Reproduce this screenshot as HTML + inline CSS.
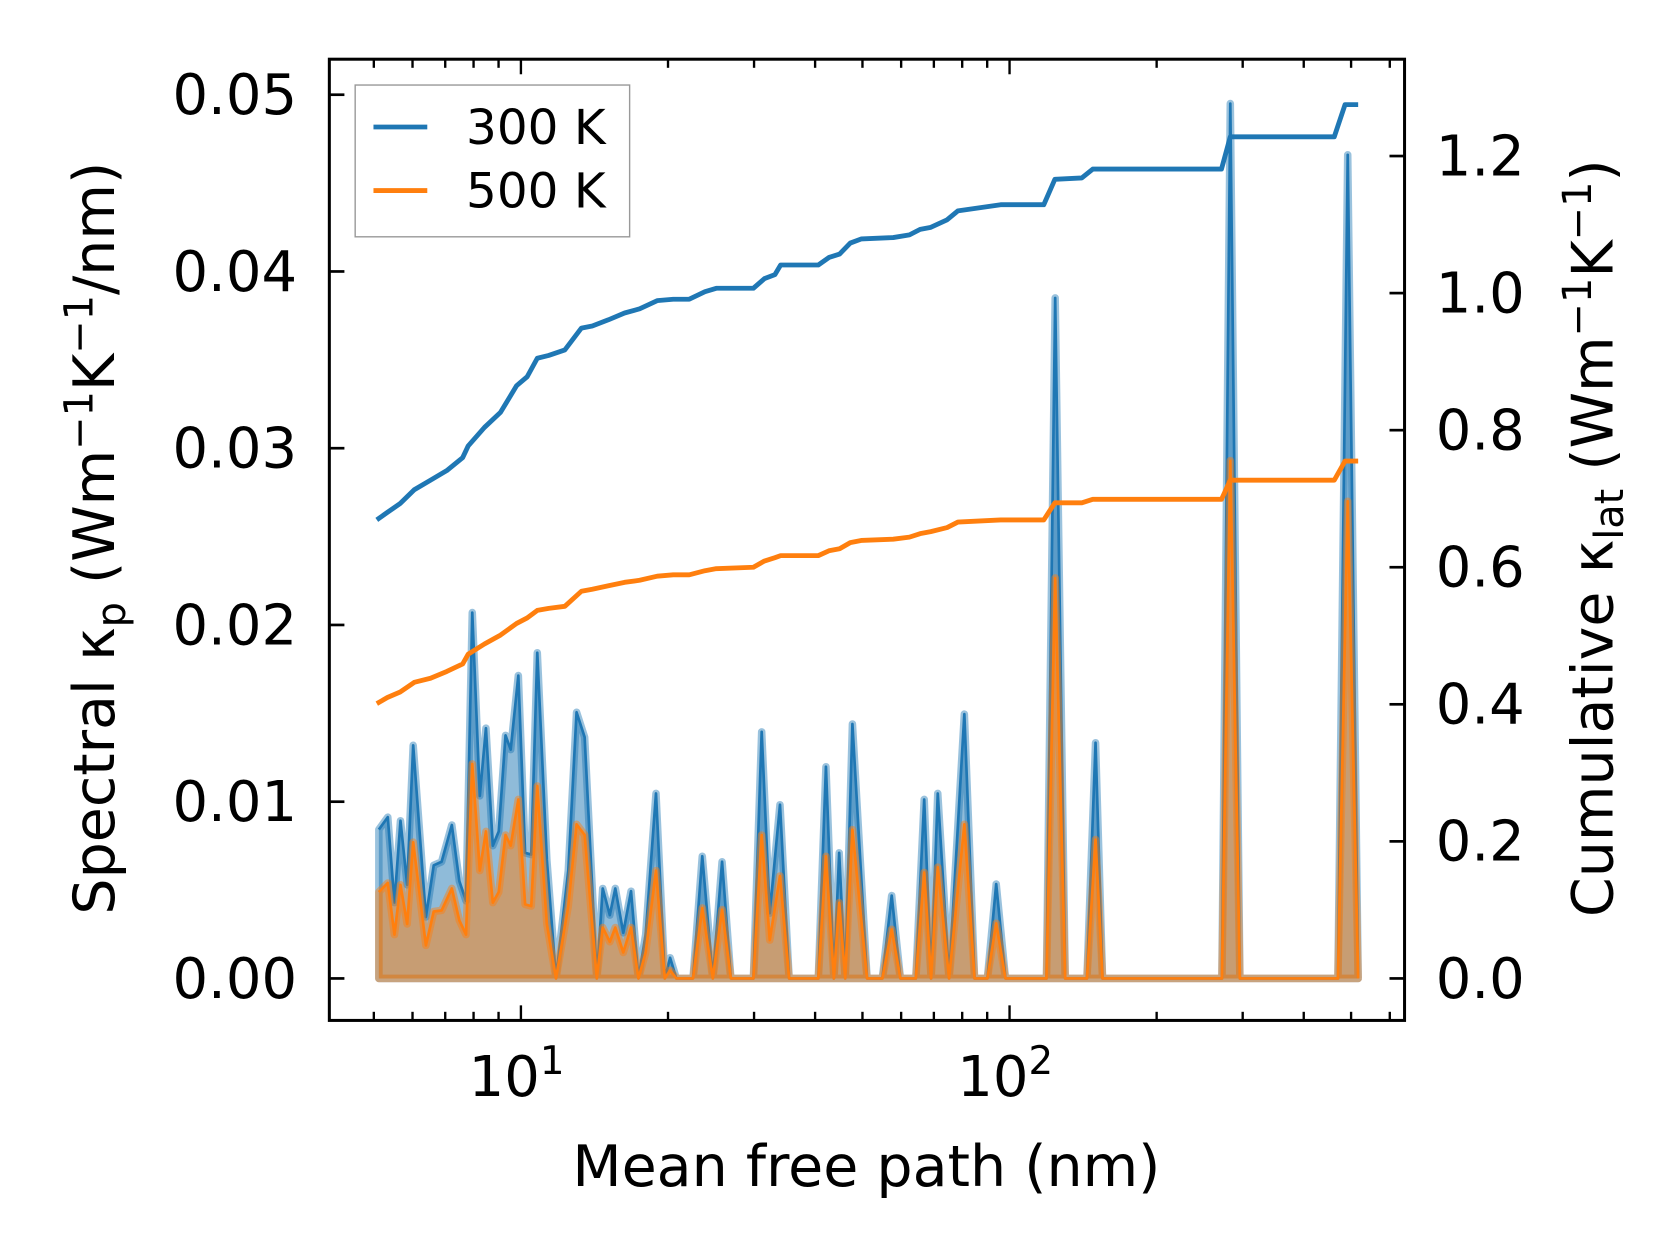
<!DOCTYPE html>
<html><head><meta charset="utf-8"><style>
html,body{margin:0;padding:0;background:#fff;}
svg{display:block;}
text{font-family:"DejaVu Sans","Liberation Sans",sans-serif;fill:#000;}
</style></head><body>
<svg id="chart" width="1679" height="1254" viewBox="0 0 1560 1165" preserveAspectRatio="none" xmlns="http://www.w3.org/2000/svg">
<rect x="0" y="0" width="1560" height="1165" fill="#fff"/>
<g id="marks"></g>
<g id="axes"></g>
<text x="805" y="1102" font-size="53" text-anchor="middle">Mean free path (nm)</text>
<text transform="translate(106,500) rotate(-90)" font-size="53" text-anchor="middle">Spectral κ<tspan font-size="37" dy="10">p</tspan><tspan dy="-10"> (Wm</tspan><tspan font-size="37" dy="-20">−1</tspan><tspan dy="20">K</tspan><tspan font-size="37" dy="-20">−1</tspan><tspan dy="20">/nm)</tspan></text>
<text transform="translate(1498,500) rotate(-90)" font-size="53" text-anchor="middle">Cumulative κ<tspan font-size="37" dy="10">lat</tspan><tspan dy="-10"> (Wm</tspan><tspan font-size="37" dy="-20">−1</tspan><tspan dy="20">K</tspan><tspan font-size="37" dy="-20">−1</tspan><tspan dy="20">)</tspan></text>
<g>
<rect x="330" y="79" width="255" height="141" fill="#fff" fill-opacity="0.8" stroke="#999" stroke-width="1.3"/>
<line x1="347" y1="118" x2="397" y2="118" stroke="#1f77b4" stroke-width="4.5"/>
<text x="433" y="134" font-size="45">300 K</text>
<line x1="347" y1="177" x2="397" y2="177" stroke="#ff7f0e" stroke-width="4.5"/>
<text x="433" y="193" font-size="45">500 K</text>
</g>
</svg>
<script>
// spectral data
const specX = [5.12,5.34,5.51,5.67,5.85,6.02,6.39,6.63,6.88,7.22,7.48,7.72,7.95,8.24,8.48,8.76,9.01,9.30,9.53,9.88,10.2,10.5,10.8,11.3,11.8,12.5,13.0,13.5,14.3,14.7,15.2,15.6,16.2,16.8,17.4,18.0,18.9,19.7,20.2,20.8,22.5,23.5,24.7,25.8,26.9,29.9,31.1,32.3,33.9,35.4,40.6,42.1,43.7,44.8,46.1,47.7,51.1,54.9,57.4,59.8,64.3,66.9,69.1,71.3,75.2,80.8,84.8,90.1,93.9,98.1,119,124,130,144,150,155,272,283,296,470,492,517];
const spec300 = [0.00842,0.00912,0.00429,0.00892,0.0053,0.01319,0.00348,0.0064,0.0066,0.00868,0.0055,0.00439,0.0207,0.01033,0.01416,0.00751,0.00832,0.01375,0.01295,0.01714,0.00711,0.00701,0.01843,0.00671,0,0.0061,0.01506,0.01365,0,0.00509,0.00358,0.00509,0.00258,0.00493,0,0.00248,0.01047,0,0.00117,0,0,0.00691,0,0.0066,0,0,0.01395,0.00369,0.00983,0,0,0.01198,0,0.00711,0,0.0144,0,0,0.00469,0,0,0.01013,0,0.01047,0,0.01496,0,0,0.00534,0,0,0.0385,0,0,0.01334,0,0,0.0495,0,0,0.0466,0];
const spec500 = [0.00489,0.0054,0.00248,0.0053,0.00308,0.00771,0.00187,0.00379,0.00385,0.00509,0.00328,0.00248,0.01214,0.0061,0.00832,0.00429,0.00489,0.00812,0.00751,0.01013,0.00419,0.00409,0.01089,0.00308,0,0.00409,0.00872,0.00812,0,0.00288,0.00207,0.00288,0.00147,0.00288,0,0.00147,0.0061,0,0.00046,0,0,0.00399,0,0.00389,0,0,0.00812,0.00217,0.0058,0,0,0.00691,0,0.00429,0,0.00842,0,0,0.00278,0,0,0.006,0,0.0063,0,0.00872,0,0,0.00312,0,0,0.02266,0,0,0.00786,0,0,0.0293,0,0,0.027,0];
// cumulative data
const cumX = [5.07,5.33,5.66,6.05,6.53,7.05,7.60,7.80,8.42,9.08,9.80,10.3,10.8,11.4,12.3,13.3,14.0,15.1,16.3,17.5,19.0,20.5,22.1,23.8,25.1,29.9,31.5,33.1,34.0,40.6,42.7,44.9,47.2,49.7,57.8,62.4,65.6,69.0,74.5,78.4,95.9,117.5,123.8,140.6,148.0,271.5,283.0,462,486,517];
const cum300 = [0.669,0.680,0.693,0.713,0.727,0.741,0.760,0.777,0.804,0.826,0.865,0.878,0.905,0.909,0.917,0.949,0.952,0.961,0.971,0.977,0.989,0.991,0.991,1.002,1.007,1.007,1.021,1.027,1.041,1.041,1.052,1.057,1.073,1.079,1.081,1.085,1.093,1.096,1.107,1.120,1.129,1.129,1.166,1.168,1.181,1.181,1.228,1.228,1.275,1.275];
const cum500 = [0.401,0.410,0.418,0.432,0.438,0.448,0.459,0.473,0.488,0.501,0.518,0.526,0.537,0.540,0.543,0.565,0.568,0.573,0.578,0.581,0.587,0.589,0.589,0.595,0.598,0.600,0.609,0.614,0.617,0.617,0.624,0.627,0.636,0.639,0.641,0.644,0.649,0.652,0.658,0.666,0.669,0.669,0.694,0.694,0.699,0.699,0.727,0.727,0.755,0.755];
const leftTicks = [0,0.01,0.02,0.03,0.04,0.05];
const leftTickLabels = ["0.00","0.01","0.02","0.03","0.04","0.05"];
const rightTicks = [0,0.2,0.4,0.6,0.8,1.0,1.2];
const rightTickLabels = ["0.0","0.2","0.4","0.6","0.8","1.0","1.2"];
const xMajor = [10,100];
const xMajorLabels = ["1","2"];

const L=306,R=1305,T=55,B=948;
const xs = v => 484 + (Math.log10(v)-1)*454;
const yL = v => 909 - v*16420;
const yR = v => 909 - v*636.7;
const NS="http://www.w3.org/2000/svg";
const marks=document.getElementById('marks');
const axes=document.getElementById('axes');
function mk(tag,attrs,parent){const e=document.createElementNS(NS,tag);for(const k in attrs)e.setAttribute(k,attrs[k]);parent.appendChild(e);return e;}

function spectral(vals,color,name){
  let pts=specX.map((x,i)=>xs(x).toFixed(1)+','+yL(vals[i]).toFixed(1));
  const f=mk('path',{d:'M'+xs(specX[0])+','+yL(0)+' L'+pts.join(' L')+' L'+xs(specX[specX.length-1])+','+yL(0)+' Z',fill:color,'fill-opacity':0.5,stroke:color,'stroke-opacity':0.45,'stroke-width':7,'stroke-linejoin':'round'},marks);
  
  
  const l=mk('path',{d:'M'+pts.join(' L'),fill:'none',stroke:color,'stroke-width':2.5,'stroke-linejoin':'round'},marks);
  
  
}
spectral(spec300,'#1f77b4','spectral-300k');
spectral(spec500,'#ff7f0e','spectral-500k');
function cum(vals,color,name){
  const p=mk('path',{d:'M'+cumX.map((x,i)=>xs(x).toFixed(1)+','+yR(vals[i]).toFixed(1)).join(' L'),fill:'none',stroke:color,'stroke-width':4.5,'stroke-linejoin':'round'},marks);
  
  
}
cum(cum300,'#1f77b4','cumulative-300k');
cum(cum500,'#ff7f0e','cumulative-500k');

const fr=mk('rect',{x:L,y:T,width:R-L,height:B-T,fill:'none',stroke:'#000','stroke-width':2.8},axes);


leftTicks.forEach((v,i)=>{
  const y=yL(v);
  const t=mk('line',{x1:L,y1:y,x2:L+14,y2:y,stroke:'#000','stroke-width':2.5},axes);
  
  
  const tx=mk('text',{x:276,y:y+18,'font-size':52,'text-anchor':'end'},axes);
  tx.textContent=leftTickLabels[i];
  
  
});
rightTicks.forEach((v,i)=>{
  const y=yR(v);
  const t=mk('line',{x1:R-14,y1:y,x2:R,y2:y,stroke:'#000','stroke-width':2.5},axes);
  
  
  const tx=mk('text',{x:1334,y:y+18,'font-size':52},axes);
  tx.textContent=rightTickLabels[i];
  
  
});
for(let d=1;d<=100;d*=10){for(let m=1;m<10;m++){const v=d*m;const x=xs(v);if(x<L||x>R)continue;const len=m===1?14:8;
  const a=mk('line',{x1:x,y1:B,x2:x,y2:B-len,stroke:'#000','stroke-width':2.2},axes);
  
  
  const b=mk('line',{x1:x,y1:T,x2:x,y2:T+len,stroke:'#000','stroke-width':2.2},axes);
  
  
}}
xMajor.forEach((v,i)=>{
  const tx=mk('text',{x:xs(v)-4,y:1018,'font-size':52,'text-anchor':'middle'},axes);
  tx.textContent='10';
  const s=mk('tspan',{'font-size':36,dy:-20},tx);s.textContent=xMajorLabels[i];
  
  
});
</script>
</body></html>
